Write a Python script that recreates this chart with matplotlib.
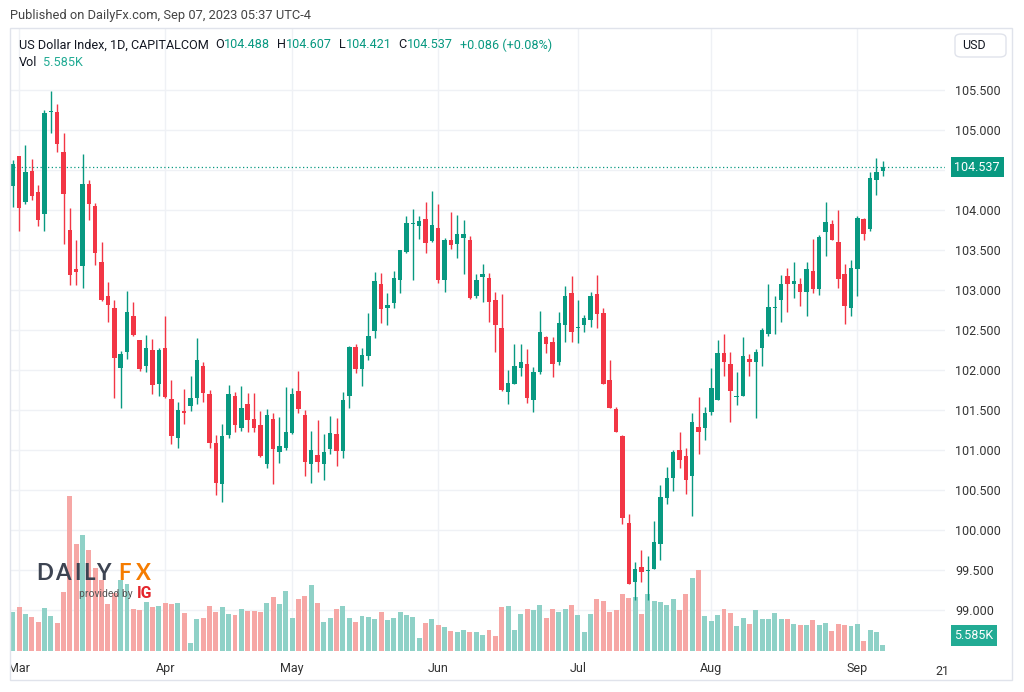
import matplotlib
matplotlib.use("Agg")
import matplotlib.pyplot as plt
import matplotlib.transforms as mtransforms
from matplotlib.patches import Rectangle, FancyBboxPatch
import numpy as np

# daily OHLC, US Dollar Index (CAPITALCOM), Feb 28 - Sep 07 2023
opens = [104.30, 104.675, 104.10, 104.49, 104.23, 103.95, 105.23, 105.23, 104.73, 103.75,
         103.26, 103.30, 104.325, 104.05, 103.35, 102.92, 102.78, 102.03, 102.22, 102.675,
         102.37, 102.05, 102.25, 101.83, 102.27, 101.64, 101.15, 101.49, 101.55, 101.65,
         102.05, 101.70, 101.09, 100.58, 101.19, 101.68, 101.27, 101.575, 101.39, 101.31,
         100.83, 101.39, 100.97, 101.03, 101.21, 101.74, 101.44, 100.83, 100.94, 100.83,
         101.01, 101.20, 100.99, 101.67, 102.29, 102.01, 102.18, 102.49, 103.08, 102.77,
         102.84, 103.12, 103.48, 103.83, 103.80, 103.89, 103.61, 103.77, 103.12, 103.62,
         103.58, 103.65, 103.625, 102.92, 103.16, 103.15, 102.875, 102.52, 101.72, 101.83,
         102.03, 102.075, 101.625, 101.98, 102.41, 102.35, 102.10, 102.56, 102.96, 102.52,
         102.56, 102.625, 102.945, 102.71, 101.875, 101.51, 101.18, 100.09, 99.35, 99.54,
         99.49, 99.51, 99.83, 100.40, 100.65, 101.00, 100.92, 100.675, 101.29, 101.27,
         101.48, 101.63, 102.21, 102.08, 101.66, 101.675, 102.14, 102.10, 102.27, 102.45,
         102.77, 102.88, 103.175, 103.07, 103.075, 102.97, 103.24, 103.01, 103.73, 103.82,
         103.60, 103.20, 102.78, 103.26, 103.89, 103.76, 104.375, 104.488]
highs = [104.625, 104.68, 104.81, 104.64, 104.31, 105.25, 105.49, 105.33, 104.96, 104.02,
         103.625, 104.70, 104.375, 104.09, 103.60, 103.10, 102.87, 102.24, 102.99, 102.85,
         102.38, 102.44, 102.39, 102.28, 102.675, 101.88, 101.60, 101.76, 101.92, 102.40,
         102.10, 101.75, 101.19, 101.32, 101.81, 101.72, 101.80, 101.71, 101.71, 101.49,
         101.51, 101.46, 101.41, 101.79, 101.78, 101.99, 101.50, 101.24, 101.375, 101.20,
         101.425, 101.40, 101.73, 102.30, 102.33, 102.28, 102.71, 103.22, 103.21, 102.96,
         103.24, 103.50, 103.92, 104.01, 103.92, 104.10, 104.24, 104.08, 103.65, 103.97,
         103.94, 103.875, 103.675, 103.20, 103.33, 103.21, 102.97, 102.95, 102.00, 102.33,
         102.33, 102.26, 102.04, 102.74, 102.42, 102.41, 102.73, 103.05, 103.17, 102.875,
         102.69, 102.97, 103.19, 102.77, 102.13, 101.54, 101.19, 100.20, 99.60, 99.75,
         99.67, 100.11, 100.56, 100.79, 101.00, 101.23, 101.03, 101.46, 101.66, 101.54,
         102.02, 102.375, 102.45, 102.23, 101.98, 102.41, 102.20, 102.26, 102.52, 103.075,
         102.92, 103.19, 103.27, 103.35, 103.15, 103.35, 103.64, 103.69, 104.10, 103.87,
         104.00, 103.33, 103.375, 103.925, 103.90, 104.475, 104.65, 104.607]
lows = [104.04, 103.74, 104.08, 104.12, 103.80, 103.74, 104.96, 104.73, 103.58, 103.06,
        103.06, 103.03, 103.875, 103.31, 102.86, 102.60, 101.65, 101.52, 102.14, 102.42,
        101.99, 101.97, 101.70, 101.675, 101.65, 101.07, 101.03, 101.33, 101.49, 101.58,
        101.60, 101.03, 100.44, 100.35, 101.15, 101.23, 101.24, 101.23, 101.23, 100.91,
        100.78, 100.58, 100.84, 101.00, 101.20, 101.46, 100.67, 100.59, 100.72, 100.63,
        100.95, 100.80, 100.90, 101.53, 101.96, 101.80, 102.13, 102.40, 102.59, 102.56,
        102.77, 102.96, 103.46, 103.125, 103.64, 103.46, 103.60, 103.09, 102.98, 103.51,
        103.40, 103.20, 102.89, 102.90, 102.85, 102.60, 102.23, 101.74, 101.58, 101.83,
        101.92, 101.59, 101.47, 101.95, 102.21, 101.91, 102.06, 102.35, 102.35, 102.34,
        102.47, 102.54, 102.52, 101.82, 101.52, 101.22, 100.08, 99.32, 99.12, 99.35,
        99.12, 99.51, 99.625, 100.32, 100.49, 100.78, 100.45, 100.17, 100.95, 101.125,
        101.44, 101.62, 101.92, 101.35, 101.56, 101.67, 101.92, 101.40, 102.05, 102.42,
        102.45, 102.60, 102.73, 102.90, 102.80, 102.67, 102.96, 102.94, 103.42, 103.62,
        103.02, 102.58, 102.67, 102.93, 103.63, 103.74, 104.19, 104.421]
closes = [104.58, 104.025, 104.48, 104.175, 103.875, 105.21, 105.24, 104.83, 104.20, 103.19,
          103.22, 104.32, 104.07, 103.46, 102.875, 102.81, 102.15, 102.20, 102.73, 102.44,
          102.01, 102.27, 101.81, 102.25, 101.66, 101.18, 101.50, 101.46, 101.65, 102.125,
          101.71, 101.09, 100.59, 101.17, 101.70, 101.31, 101.52, 101.37, 101.27, 100.92,
          101.44, 101.01, 101.05, 101.22, 101.70, 101.51, 100.85, 101.00, 100.85, 100.97,
          101.21, 100.99, 101.625, 102.29, 102.01, 102.19, 102.425, 103.11, 102.76, 102.81,
          103.15, 103.50, 103.84, 103.835, 103.86, 103.59, 103.81, 103.13, 103.625, 103.56,
          103.70, 103.70, 102.90, 103.125, 103.20, 102.85, 102.56, 101.75, 101.84, 102.055,
          102.10, 101.65, 101.98, 102.47, 102.325, 102.08, 102.59, 102.925, 102.48, 102.53,
          102.65, 102.925, 102.70, 101.825, 101.53, 101.23, 100.15, 99.325, 99.51, 99.47,
          99.50, 99.85, 100.41, 100.65, 100.98, 100.875, 100.62, 101.35, 101.22, 101.46,
          101.78, 102.21, 102.10, 101.74, 101.68, 102.17, 102.10, 102.23, 102.50, 102.79,
          102.79, 103.08, 103.08, 103.11, 102.98, 103.26, 103.01, 103.66, 103.85, 103.63,
          103.14, 102.80, 103.27, 103.90, 103.70, 104.40, 104.47, 104.537]
# volume, thousands
volumes = [34.3, 38.7, 32.8, 30.4, 26.0, 37.8, 31.3, 24.5, 52.3, 137.6,
           94.8, 102.5, 89.5, 73.3, 62.9, 41.6, 51.1, 62.9, 59.1, 37.2,
           36.3, 43.1, 39.2, 40.1, 42.3, 41.6, 42.3, 33.4, 6.8, 28.4,
           29.0, 40.1, 34.3, 39.2, 32.8, 31.9, 37.2, 35.7, 35.7, 34.8,
           42.3, 47.6, 41.6, 53.4, 29.0, 46.1, 49.0, 58.5, 42.3, 25.4,
           29.0, 37.2, 40.1, 29.0, 25.4, 31.3, 30.4, 28.4, 34.3, 27.5,
           29.0, 34.3, 31.9, 29.9, 11.8, 25.1, 28.4, 23.0, 21.5, 17.7,
           17.1, 18.6, 16.6, 16.6, 14.2, 18.6, 13.7, 39.0, 39.6, 18.9,
           32.5, 36.9, 36.1, 41.0, 29.5, 36.9, 34.6, 37.5, 40.8, 31.6,
           16.8, 32.5, 46.3, 44.6, 34.8, 36.1, 50.2, 47.2, 47.8, 33.0,
           50.2, 44.3, 43.4, 40.5, 45.8, 36.6, 50.8, 64.7, 72.0, 30.7,
           26.3, 31.6, 36.9, 33.9, 21.9, 29.5, 23.7, 36.1, 28.1, 28.1,
           33.9, 28.6, 28.6, 24.2, 22.8, 22.8, 27.7, 22.8, 25.1, 17.5,
           24.2, 22.8, 22.2, 24.2, 8.6, 18.9, 16.6, 5.585]

month_pos = [1, 24, 44, 67, 89, 110, 133]
month_lab = ["Mar", "Apr", "May", "Jun", "Jul", "Aug", "Sep"]
next_pos, next_lab = 147, "21"
price_ticks = [99.0, 99.5, 100.0, 100.5, 101.0, 101.5, 102.0, 102.5,
               103.0, 103.5, 104.0, 104.5, 105.0, 105.5]
hidden_tick = 104.5   # covered by the last-price label
last_close, last_vol = 104.537, 5.585
day_change, day_change_pct = 0.086, 0.08

GREEN = "#089981"
RED = "#F23645"
VGREEN = "#8FD1C7"
VRED = "#F6A7A5"
GRID = "#EFF1F5"
TXT = "#131722"

plt.rcParams["font.family"] = ["Roboto", "DejaVu Sans"]

W, H = 1024, 692
fig = plt.figure(figsize=(W / 100, H / 100), dpi=100)


def fx(x):
    return x / W


def fy(y):
    return 1 - y / H


# volume pane underneath, price pane on top
axv = fig.add_axes([fx(10), fy(651), (945 - 10) / W, (651 - 28) / H])
ax = fig.add_axes([fx(10), fy(651), (945 - 10) / W, (651 - 28) / H], sharex=axv)
axv.set_zorder(0)
ax.set_zorder(1)
ax.patch.set_visible(False)

idx = np.arange(len(opens))
o = np.array(opens)
c = np.array(closes)
up = c >= o
cols = np.where(up, GREEN, RED)
vcols = np.where(up, VGREEN, VRED)

ax.set_xlim(-0.425, 146.8)
ax.set_ylim(98.4875, 106.275)
axv.set_ylim(0, 552)

# grid on the bottom pane so the volume bars cover it
hgrid = mtransforms.blended_transform_factory(axv.transAxes, ax.transData)
axv.hlines(price_ticks, 0, 1, transform=hgrid, color=GRID, lw=1, zorder=0)
axv.vlines(month_pos, 0, 1, transform=axv.get_xaxis_transform(), color=GRID, lw=1, zorder=0)

axv.bar(idx, volumes, width=0.78, color=vcols, linewidth=0, zorder=2)

body_h = np.maximum(np.abs(c - o), 0.013)
ax.vlines(idx, lows, highs, colors=cols, lw=1, zorder=2)
ax.bar(idx, body_h, bottom=np.minimum(o, c), width=0.7, color=cols, linewidth=0, zorder=3)
ax.axhline(last_close, color=GREEN, lw=0.9, ls=(0, (1, 2)), zorder=1)

for a in (ax, axv):
    for s in a.spines.values():
        s.set_visible(False)
axv.set_yticks([])
axv.tick_params(axis="x", length=0, labelbottom=False)

shown = [p for p in price_ticks if p != hidden_tick]
ax.yaxis.tick_right()
ax.set_yticks(shown)
ax.set_yticklabels([f"{p:.3f}" for p in shown])
ax.tick_params(axis="y", length=0, pad=7.5, labelsize=9, labelcolor="#333333")
ax.set_xticks(month_pos)
ax.set_xticklabels(month_lab)
ax.tick_params(axis="x", length=0, pad=8, labelsize=9, labelcolor="#333333", labelbottom=True)
ax.text(next_pos - 0.6, -0.022, next_lab, transform=ax.get_xaxis_transform(), ha="center", va="top",
        fontsize=9, color="#333333")

# clip the partial labels at both ends of the time scale
fig.add_artist(Rectangle((0, fy(680)), fx(10), (680 - 652) / H, transform=fig.transFigure,
                         color="white", zorder=5))
fig.add_artist(Rectangle((fx(948), fy(680)), (1011 - 948) / W, (680 - 652) / H,
                         transform=fig.transFigure, color="white", zorder=5))

# chart frame
fig.add_artist(Rectangle((fx(10), fy(680)), (1012 - 10) / W, (680 - 28) / H, transform=fig.transFigure,
                         fill=False, edgecolor="#E0E3EB", lw=1, zorder=6))

# price scale labels
ytr = mtransforms.blended_transform_factory(fig.transFigure, ax.transData)
fig.text(fx(977), last_close, f"{last_close:.3f}", transform=ytr, ha="center", va="center",
         fontsize=9, color="white", zorder=7,
         bbox=dict(boxstyle="square,pad=0.3", fc=GREEN, ec="none"))
vtr = mtransforms.blended_transform_factory(fig.transFigure, axv.transData)
fig.text(fx(974), last_vol + 8, f"{last_vol:.3f}K", transform=vtr, ha="center", va="center",
         fontsize=9, color="white", zorder=7,
         bbox=dict(boxstyle="square,pad=0.3", fc="#22AB94", ec="none"))
fig.add_artist(FancyBboxPatch((fx(955), fy(57)), (1006 - 955) / W, (57 - 34) / H,
                              boxstyle="round,pad=0,rounding_size=0.006", transform=fig.transFigure,
                              fc="white", ec="#E0E3EB", lw=1, zorder=6))
fig.text(fx(974), fy(45.5), "USD", ha="center", va="center", fontsize=9, color=TXT, zorder=7)

# header and legend
renderer = fig.canvas.get_renderer()


def put(x, y, s, color, size=9.3, **kw):
    t = fig.text(fx(x), fy(y), s, color=color, fontsize=size, ha="left", va="center", **kw)
    return x + t.get_window_extent(renderer).width


put(10, 15, "Published on DailyFx.com, Sep 07, 2023 05:37 UTC-4", "#444444")
x = put(19, 45, "US Dollar Index, 1D, CAPITALCOM", TXT, size=9.1) + 6
for lab, val in [("O", opens[-1]), ("H", highs[-1]), ("L", lows[-1]), ("C", closes[-1])]:
    x = put(x, 45, lab, TXT, size=9.1)
    x = put(x, 45, f"{val:.3f}", GREEN, size=9.1) + 7
put(x, 45, f"{day_change:+.3f} ({day_change_pct:+.2f}%)", GREEN, size=9.1)
x = put(19, 62, "Vol", TXT, size=9.1) + 6
put(x, 62, f"{last_vol:.3f}K", "#22AB94", size=9.1)

# DailyFX watermark
for ch, cx in zip("DAILY", [45, 62.5, 77.5, 89, 103.5]):
    fig.text(fx(cx), fy(574), ch, ha="center", va="center", fontsize=16, fontweight="bold",
             color="#3D4452", family=["Lato", "DejaVu Sans"], zorder=4)
for ch, cx in zip("FX", [124.5, 143.5]):
    fig.text(fx(cx), fy(574), ch, ha="center", va="center", fontsize=16, fontweight="bold",
             color="#F57C00", family=["Lato", "DejaVu Sans"], zorder=4)
fig.text(fx(133), fy(594), "provided by", ha="right", va="center", fontsize=7.5, color="#555555", zorder=4)
fig.text(fx(137), fy(593.5), "IG", ha="left", va="center", fontsize=11.5, fontweight="bold",
         color="#E4262C", zorder=4)

fig.savefig("out.png", dpi=100, facecolor="white")
